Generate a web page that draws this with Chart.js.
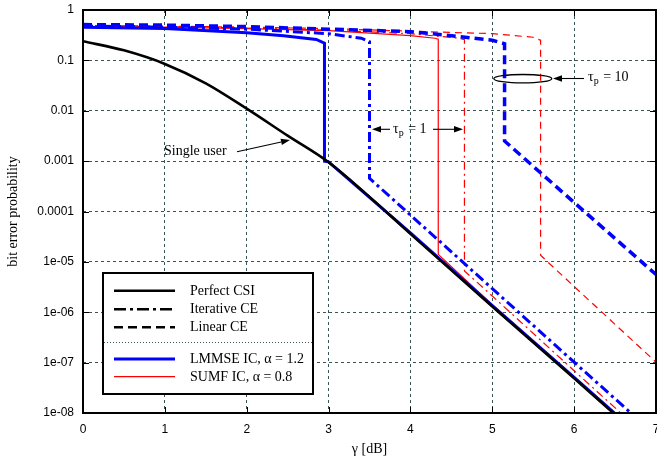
<!DOCTYPE html>
<html><head><meta charset="utf-8">
<script src="https://cdn.jsdelivr.net/npm/chart.js@4.4.1/dist/chart.umd.min.js"></script>
<style>html,body{margin:0;padding:0;background:#fff;}#wrap{width:657px;height:460px;}</style>
</head><body><div id="wrap"><canvas id="c" width="657" height="460"></canvas></div>
<script>
// ---- tick labels ----
const xTickValues = [0,1,2,3,4,5,6,7];
const xTickLabels = ['0','1','2','3','4','5','6','7'];
const yTickValues = [1,0.1,0.01,0.001,0.0001,1e-5,1e-6,1e-7,1e-8];
const yTickLabels = ['1','0.1','0.01','0.001','0.0001','1e-05','1e-06','1e-07','1e-08'];
const legendLabels = ['Perfect CSI','Iterative CE','Linear CE','LMMSE IC, α = 1.2','SUMF IC, α = 0.8'];
const xTitle = 'γ [dB]';
const yTitle = 'bit error probability';

// ---- series (x in dB, y = bit error probability) ----
const singleUserX = [0,0.5,1,1.5,2,2.5,3,3.5,4,5,6,6.5];
const singleUserY = [0.24,0.158,0.085,0.035,0.011,0.0032,0.00095,0.000195,3.6e-5,1.3e-6,4.9e-8,9.3e-9];

const lmmsePerfX = [0,1,2,2.45,2.85,2.95,2.95,3,4,5,6,6.5];
const lmmsePerfY = [0.457,0.427,0.355,0.309,0.26,0.22,0.001,0.00097,3.75e-5,1.35e-6,5.1e-8,9.7e-9];

const lmmseIterX = [0,1,2,3,3.4,3.5,3.5,4,5,6,6.7];
const lmmseIterY = [0.479,0.457,0.417,0.339,0.275,0.234,4.57e-4,8.5e-5,2.95e-6,1.02e-7,9.8e-9];

const lmmseLinX = [0,1,2,3,4,4.5,5,5.15,5.15,6,7];
const lmmseLinY = [0.513,0.501,0.468,0.417,0.372,0.309,0.251,0.214,0.00251,1.51e-4,5.6e-6];

const sumfPerfX = [0,1,2,3,4,4.3,4.34,4.34,5,6,6.5];
const sumfPerfY = [0.468,0.457,0.427,0.389,0.309,0.275,0.263,1.41e-5,1.41e-6,5.2e-8,1e-8];

const sumfIterX = [0,1,2,3,4,4.6,4.66,4.66,5,6,6.57];
const sumfIterY = [0.479,0.468,0.437,0.398,0.339,0.275,0.257,6.6e-6,2.1e-6,6.9e-8,1e-8];

const sumfLinX = [0,1,2,3,4,5,5.5,5.59,5.59,6,7];
const sumfLinY = [0.49,0.479,0.457,0.427,0.38,0.339,0.288,0.251,1.35e-5,3.24e-6,1.02e-7];

const pts = (xs, ys) => xs.map((x, i) => ({x: x, y: ys[i]}));

const BLUE = '#0000ff', RED = '#ff0000', BLACK = '#000000';
const DASH = [9,5], DASHDOT = [10,4,3,4];
const RDASH = [7,5], RDASHDOT = [8,4,2,4];

function ds(data, color, width, dash, order, extra) {
  return Object.assign({data: data, borderColor: color, backgroundColor: color, borderWidth: width,
    borderDash: dash, pointRadius: 0, fill: false, tension: 0, order: order, borderCapStyle: 'butt', borderJoinStyle: 'miter'}, extra || {});
}

const datasets = [
  ds(pts(singleUserX, singleUserY), BLACK, 2.6, [], 0, {cubicInterpolationMode: 'monotone'}),
  ds(pts(lmmsePerfX, lmmsePerfY), BLUE, 3, [], 1),
  ds(pts(lmmseIterX, lmmseIterY), BLUE, 3, DASHDOT, 2),
  ds(pts(lmmseLinX, lmmseLinY), BLUE, 3.5, DASH, 3),
  ds(pts(sumfPerfX, sumfPerfY), RED, 1.2, [], 4),
  ds(pts(sumfIterX, sumfIterY), RED, 1.2, RDASHDOT, 5),
  ds(pts(sumfLinX, sumfLinY), RED, 1.2, RDASH, 6)
];

const GRID = '#3a5454';

function arrow(ctx, x1, y1, x2, y2) {
  ctx.save();
  ctx.strokeStyle = '#000'; ctx.fillStyle = '#000'; ctx.lineWidth = 1.1; ctx.setLineDash([]);
  const a = Math.atan2(y2 - y1, x2 - x1), L = 9, W = 3.2;
  const bx = x2 - L * Math.cos(a), by = y2 - L * Math.sin(a);
  ctx.beginPath(); ctx.moveTo(x1, y1); ctx.lineTo(bx, by); ctx.stroke();
  ctx.beginPath(); ctx.moveTo(x2, y2);
  ctx.lineTo(bx + W * Math.sin(a), by - W * Math.cos(a));
  ctx.lineTo(bx - W * Math.sin(a), by + W * Math.cos(a));
  ctx.closePath(); ctx.fill();
  ctx.restore();
}

function tauText(ctx, x, y, rest) {
  ctx.save();
  ctx.fillStyle = '#000'; ctx.textBaseline = 'middle'; ctx.textAlign = 'left';
  ctx.font = '14px "Liberation Serif"';
  ctx.fillText('τ', x, y);
  let w = ctx.measureText('τ').width;
  ctx.font = '10px "Liberation Serif"';
  ctx.fillText('p', x + w, y + 4);
  w += ctx.measureText('p').width + 1;
  ctx.font = '14px "Liberation Serif"';
  ctx.fillText(rest, x + w, y);
  ctx.restore();
}

const overlay = {
  id: 'overlay',
  afterDraw(chart) {
    const ctx = chart.ctx, a = chart.chartArea;
    const xs = chart.scales.x, ys = chart.scales.y;
    ctx.save();
    // inward ticks on all sides
    ctx.strokeStyle = '#000'; ctx.lineWidth = 1; ctx.setLineDash([]);
    xTickValues.forEach(v => {
      const px = Math.round(xs.getPixelForValue(v)) + 0.5;
      ctx.beginPath(); ctx.moveTo(px, a.bottom); ctx.lineTo(px, a.bottom - 6); ctx.stroke();
      ctx.beginPath(); ctx.moveTo(px, a.top); ctx.lineTo(px, a.top + 6); ctx.stroke();
    });
    yTickValues.forEach(v => {
      const py = Math.round(ys.getPixelForValue(v)) + 0.5;
      ctx.beginPath(); ctx.moveTo(a.left, py); ctx.lineTo(a.left + 6, py); ctx.stroke();
      ctx.beginPath(); ctx.moveTo(a.right, py); ctx.lineTo(a.right - 6, py); ctx.stroke();
    });
    // frame
    ctx.lineWidth = 2;
    ctx.strokeRect(a.left, a.top, a.right - a.left, a.bottom - a.top);

    // axis titles
    ctx.fillStyle = '#000';
    ctx.font = '14px "Liberation Serif"';
    ctx.textAlign = 'center'; ctx.textBaseline = 'middle';
    ctx.fillText(xTitle, (a.left + a.right) / 2, 449);
    ctx.save();
    ctx.translate(13, (a.top + a.bottom) / 2);
    ctx.rotate(-Math.PI / 2);
    ctx.fillText(yTitle, 0, 0);
    ctx.restore();

    // annotations
    ctx.textAlign = 'left';
    ctx.fillText('Single user', 164, 151);
    arrow(ctx, 237, 151.7, 290, 140);
    tauText(ctx, 393, 129.5, ' = 1');
    arrow(ctx, 390, 129.3, 372, 129.3);
    arrow(ctx, 433, 129.3, 463, 129.3);
    // ellipse tau_p = 10
    ctx.beginPath(); ctx.lineWidth = 1.3; ctx.strokeStyle = '#000';
    ctx.ellipse(522.8, 78.7, 29, 4.2, 0, 0, Math.PI * 2); ctx.stroke();
    arrow(ctx, 584, 78.5, 553, 78.5);
    tauText(ctx, 588, 77.5, ' = 10');

    // legend
    const L = 103, T = 273, R = 313, B = 394;
    ctx.fillStyle = '#fff';
    ctx.fillRect(L, T, R - L, B - T);
    ctx.lineWidth = 2; ctx.strokeStyle = '#000'; ctx.setLineDash([]);
    ctx.strokeRect(L, T, R - L, B - T);
    const rows = [
      {y: 290.7, c: BLACK, w: 2.4, d: []},
      {y: 309.3, c: BLACK, w: 2.4, d: [12,4,3,4]},
      {y: 327.3, c: BLACK, w: 2.4, d: [9,5]},
      {y: 359, c: BLUE, w: 3.2, d: []},
      {y: 376.7, c: RED, w: 1.2, d: []}
    ];
    rows.forEach((r, i) => {
      ctx.save();
      ctx.strokeStyle = r.c; ctx.lineWidth = r.w; ctx.setLineDash(r.d);
      ctx.beginPath(); ctx.moveTo(114, r.y); ctx.lineTo(175, r.y); ctx.stroke();
      ctx.restore();
      ctx.fillStyle = '#000'; ctx.font = '14px "Liberation Serif"';
      ctx.textAlign = 'left'; ctx.textBaseline = 'middle';
      ctx.fillText(legendLabels[i], 190, r.y + 0.5);
    });
    ctx.save();
    ctx.strokeStyle = GRID; ctx.lineWidth = 1; ctx.setLineDash([1,2]);
    ctx.beginPath(); ctx.moveTo(L + 1, 342.5); ctx.lineTo(R - 1, 342.5); ctx.stroke();
    ctx.restore();
    ctx.restore();
  }
};

const edgeHide = (ctx) => (ctx.index === 0 || ctx.index === ctx.scale.ticks.length - 1) ? 'rgba(0,0,0,0)' : GRID;

new Chart(document.getElementById('c'), {
  type: 'line',
  data: {datasets: datasets},
  options: {
    responsive: false,
    animation: false,
    devicePixelRatio: 1,
    layout: {padding: {left: 0, right: 1, top: 10, bottom: 0}},
    plugins: {legend: {display: false}, tooltip: {enabled: false}},
    scales: {
      x: {
        type: 'linear', min: 0, max: 7,
        afterBuildTicks: s => { s.ticks = xTickValues.map(v => ({value: v})); },
        afterFit: s => { s.height = 47; s.paddingLeft = 0; s.paddingRight = 0; },
        ticks: {color: '#000', font: {family: '"Liberation Sans"', size: 12}, padding: 9,
          maxRotation: 0, autoSkip: false,
          callback: (v) => { const i = xTickValues.indexOf(v); return i >= 0 ? xTickLabels[i] : ''; }},
        grid: {color: edgeHide, lineWidth: 1, drawTicks: false},
        border: {display: false, dash: [3,3]}
      },
      y: {
        type: 'logarithmic', min: 1e-8, max: 1,
        afterBuildTicks: s => { s.ticks = yTickValues.slice().reverse().map(v => ({value: v})); },
        afterFit: s => { s.width = 83; s.paddingTop = 0; s.paddingBottom = 0; },
        ticks: {color: '#000', font: {family: '"Liberation Sans"', size: 12}, padding: 9,
          autoSkip: false,
          callback: (v) => { const i = yTickValues.findIndex(t => Math.abs(Math.log10(t) - Math.log10(v)) < 1e-6); return i >= 0 ? yTickLabels[i] : ''; }},
        grid: {color: edgeHide, lineWidth: 1, drawTicks: false},
        border: {display: false, dash: [3,3]}
      }
    }
  },
  plugins: [overlay]
});
</script>
</body></html>
